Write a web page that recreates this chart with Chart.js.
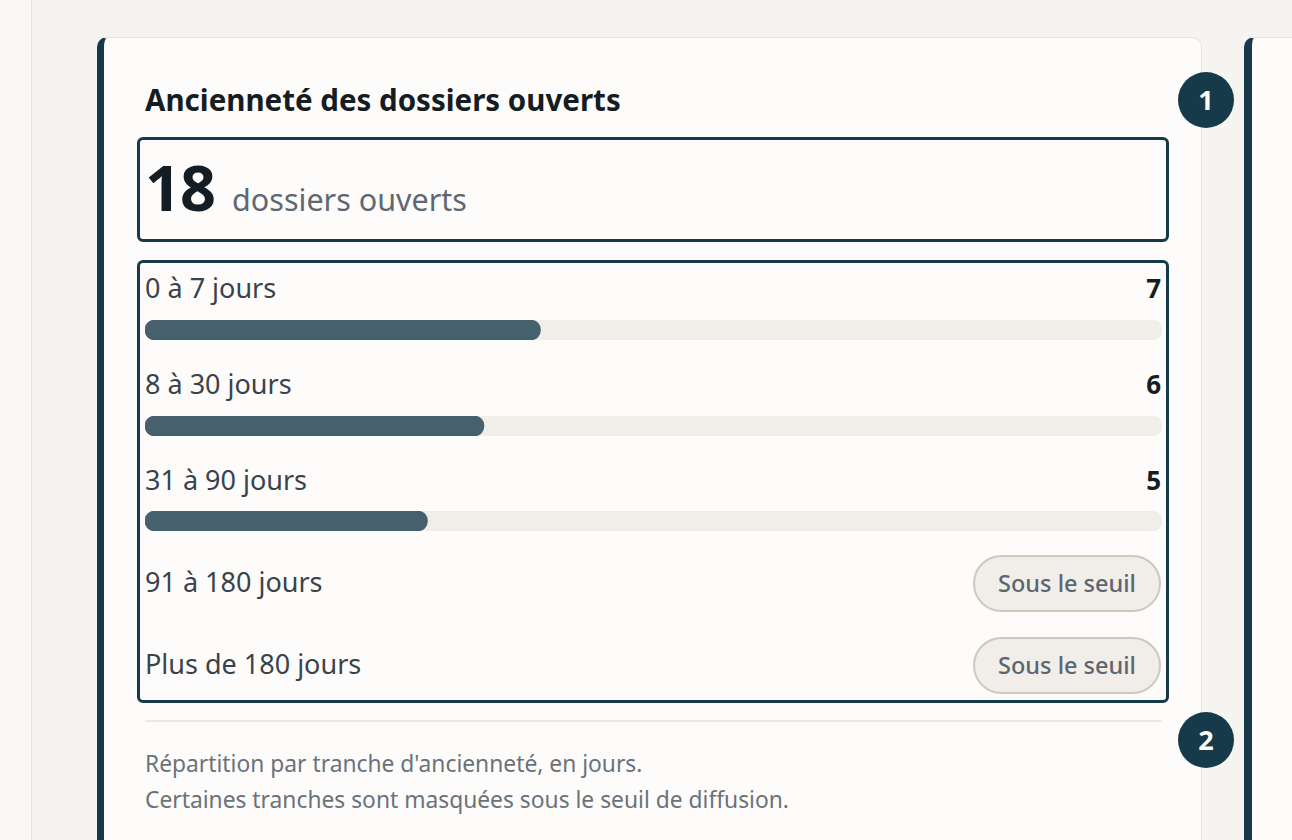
<!DOCTYPE html>
<html lang="fr"><head><meta charset="utf-8">
<script src="https://cdn.jsdelivr.net/npm/chart.js@4.4.1/dist/chart.umd.min.js"></script>
<style>
html,body{margin:0;padding:0;width:1292px;height:840px;overflow:hidden;background:#f5f4f1;font-family:"Noto Sans","Open Sans",sans-serif;}
.abs{position:absolute;}
.strip{left:0;top:0;width:31px;height:840px;background:#f9f8f6;border-right:1px solid #e6e3de;}
.card{left:97px;top:37px;width:1097px;height:900px;background:#fdfcfa;border:1px solid #e6e3de;border-left:7px solid #173a4a;border-radius:10px;}
.card2{left:1244px;top:37px;width:200px;height:900px;background:#fdfcfa;border:1px solid #e6e3de;border-left:8px solid #173a4a;border-radius:10px;}
.badge{width:56px;height:56px;border-radius:50%;background:#173a4a;color:#fff;font-weight:700;font-size:27px;line-height:56px;text-align:center;}
.title{left:145px;top:80px;font-size:29.5px;font-weight:700;color:#151d24;line-height:40px;white-space:nowrap;}
.box{border:3px solid #173a4a;border-radius:6px;box-sizing:border-box;}
.big{left:145px;top:150px;white-space:nowrap;display:flex;align-items:baseline;}
.big .n{font-size:63px;font-weight:700;color:#151d24;line-height:74px;letter-spacing:-1px;}
.big .u{font-size:30.5px;color:#5f6872;margin-left:17px;}
.lab{left:145px;font-size:27px;color:#3a424b;line-height:32px;white-space:nowrap;}
.val{right:131px;font-size:26px;font-weight:700;color:#151d24;line-height:32px;text-align:right;}
.pill{left:973px;width:188px;height:57px;box-sizing:border-box;border:2px solid #cdc8c0;border-radius:29px;background:#f1eeea;color:#5b6570;font-size:23.5px;font-weight:500;text-align:center;line-height:53px;white-space:nowrap;}
.sep{left:145px;top:720px;width:1017px;height:2px;background:#ebe8e3;}
.foot{left:145px;font-size:22.8px;color:#6a727b;line-height:30px;white-space:nowrap;}
</style></head>
<body>
<div class="abs strip"></div>
<div class="abs card"></div>
<div class="abs card2"></div>
<div class="abs badge" style="left:1178px;top:72px;">1</div>
<div class="abs badge" style="left:1178px;top:712px;">2</div>
<div class="abs title" id="title"></div>
<div class="abs box" style="left:137px;top:137px;width:1032px;height:105px;"></div>
<div class="abs big"><span class="n" id="total"></span><span class="u" id="unit"></span></div>
<div class="abs box" style="left:137px;top:260px;width:1032px;height:443px;"></div>
<div id="rows"></div>
<div class="abs sep"></div>
<div class="abs foot" id="f1" style="top:749px;"></div>
<div class="abs foot" id="f2" style="top:785px;"></div>
<script>
const titleText = "Ancienneté des dossiers ouverts";
const unitText = "dossiers ouverts";
const categories = ["0 à 7 jours", "8 à 30 jours", "31 à 90 jours", "91 à 180 jours", "Plus de 180 jours"];
const counts = [7, 6, 5, null, null];
const totalOpen = 18;
const suppressedLabel = "Sous le seuil";
const footnotes = ["Répartition par tranche d'ancienneté, en jours.", "Certaines tranches sont masquées sous le seuil de diffusion."];

const labelY = [272, 368, 464, 566, 648];
const barY = [320, 416, 511];
const pillY = [555, 637];

document.getElementById('title').textContent = titleText;
document.getElementById('total').textContent = totalOpen;
document.getElementById('unit').textContent = unitText;
document.getElementById('f1').textContent = footnotes[0];
document.getElementById('f2').textContent = footnotes[1];

const rows = document.getElementById('rows');
let barIdx = 0, pillIdx = 0;
categories.forEach((cat, i) => {
  const lab = document.createElement('div');
  lab.className = 'abs lab';
  lab.style.top = labelY[i] + 'px';
  lab.textContent = cat;
  rows.appendChild(lab);
  if (counts[i] !== null) {
    const v = document.createElement('div');
    v.className = 'abs val';
    v.style.top = labelY[i] + 'px';
    v.textContent = counts[i];
    rows.appendChild(v);
    const c = document.createElement('canvas');
    c.width = 1017; c.height = 20;
    c.className = 'abs';
    c.style.left = '145px';
    c.style.top = barY[barIdx++] + 'px';
    rows.appendChild(c);
    new Chart(c, {
      type: 'bar',
      data: {
        labels: [cat],
        datasets: [
          { data: [counts[i]], backgroundColor: '#46606e', borderRadius: 10, borderSkipped: false, barPercentage: 1, categoryPercentage: 1, grouped: false, order: 0 },
          { data: [totalOpen], backgroundColor: '#f1eeea', borderRadius: 10, borderSkipped: false, barPercentage: 1, categoryPercentage: 1, grouped: false, order: 1 }
        ]
      },
      options: {
        indexAxis: 'y', responsive: false, animation: false, maintainAspectRatio: false,
        layout: { padding: 0 },
        plugins: { legend: { display: false }, tooltip: { enabled: false } },
        scales: { x: { display: false, min: 0, max: totalOpen }, y: { display: false } }
      }
    });
  } else {
    const p = document.createElement('div');
    p.className = 'abs pill';
    p.style.top = pillY[pillIdx++] + 'px';
    p.textContent = suppressedLabel;
    rows.appendChild(p);
  }
});
</script>
</body></html>
